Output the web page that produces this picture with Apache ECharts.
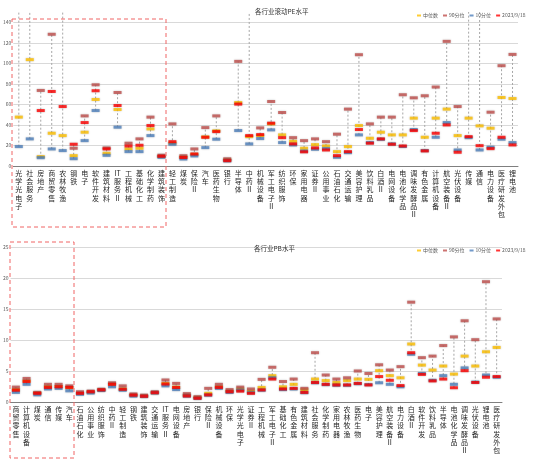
<!DOCTYPE html>
<html>
<head>
<meta charset="utf-8">
<script src="https://cdn.jsdelivr.net/npm/echarts@6/dist/echarts.min.js"></script>
<style>
  html, body { margin: 0; padding: 0; background: #fff; }
  #chart { width: 550px; height: 462px; }
</style>
</head>
<body>
<div id="chart"></div>
<script>
// 上图：PE
const peCats = ['光学光电子', '社会服务', '房地产', '商贸零售', '农林牧渔', '钢铁', '电子', '软件开发', '建筑材料', 'IT服务Ⅱ',
  '工程机械', '基础化工', '化学制药', '建筑装饰', '轻工制造', '煤炭', '保险Ⅱ', '汽车', '医药生物', '银行',
  '半导体', '中药Ⅱ', '机械设备', '军工电子Ⅱ', '纺织服饰', '环保', '家用电器', '证券Ⅱ', '公用事业', '石油石化',
  '交通运输', '美容护理', '饮料乳品', '白酒Ⅱ', '电网设备', '电池化学品', '调味发酵品Ⅱ', '有色金属', '计算机设备', '航空装备Ⅱ',
  '光伏设备', '传媒', '通信', '电力设备', '医疗研发外包', '锂电池'];
const peMedian = [47.6, 103.6, 9.1, 31.9, 29.6, 10.1, 32.9, 64.8, 12.4, 55, 16.6, 17.3, 36.1, 9.3, 22.3, 8.8, 11.4, 28.3, 34.2, 6,
  61.8, 28.6, 29.6, 41, 30.3, 24.1, 17.3, 20.8, 19.5, 14, 18.9, 39.4, 27, 32.9, 30.3, 30.3, 46.6, 28, 46.6, 55.4,
  29.6, 46.6, 39.1, 36.8, 66.7, 65.7];
const peP90 = [175, 190, 73.6, 128.3, 160, 17.3, 48.8, 79.1, 17.6, 71.6, 22.2, 26.4, 47.6, 10.5, 41, 10, 16.6, 37.4, 48.8, 7,
  101.9, 155, 37.1, 62.8, 52.1, 27.6, 24.7, 26.4, 23.7, 31, 55.4, 108.4, 41, 47.6, 47.6, 69.4, 66.4, 68.4, 76.9, 121.4,
  57.9, 170, 165, 52.4, 97.7, 108.7];
const peP10 = [18.9, 26.4, 8.1, 16.6, 15, 7.1, 24.7, 54, 10.4, 37.8, 14, 14, 29.6, 8.5, 21.2, 6.8, 9.8, 17.9, 26.1, 5,
  34.5, 21.5, 26.7, 35.2, 22.8, 20.5, 14.5, 16.3, 16.9, 8.5, 13, 30.3, 22.8, 26, 21.5, 19, 35.5, 15, 28, 42.3,
  15.6, 27.6, 15.6, 18.3, 26.1, 22.8];
const peNow = [160, 165, 54, 72.6, 57.9, 21.2, 42.3, 73.3, 16.6, 58.9, 19.5, 20.2, 39.4, 9.5, 23.7, 8.3, 11.7, 28, 33.5, 5.2,
  60.3, 29.6, 30.6, 41.7, 27.6, 21.5, 13.8, 17.6, 15.6, 10.1, 14, 35.5, 22.2, 26.4, 21.2, 19.5, 34.5, 14.7, 31.9, 40,
  13.4, 28.6, 19.8, 16.9, 28, 20.5];

// 下图：PB
const pbCats = ['商贸零售', '计算机设备', '煤炭', '通信', '传媒', '汽车', '石油石化', '公用事业', '纺织服饰', '中药Ⅱ',
  '轻工制造', '钢铁', '建筑装饰', '交通运输', 'IT服务Ⅱ', '电网设备', '房地产', '银行', '保险Ⅱ', '机械设备',
  '环保', '光学光电子', '证券Ⅱ', '工程机械', '军工电子Ⅱ', '基础化工', '有色金属', '建筑材料', '社会服务', '化学制药',
  '家用电器', '农林牧渔', '医药生物', '电子', '美容护理', '航空装备Ⅱ', '电力设备', '白酒Ⅱ', '软件开发', '饮料乳品',
  '半导体', '电池化学品', '调味发酵品Ⅱ', '光伏设备', '锂电池', '医疗研发外包'];
const pbMedian = [2.0, 3.4, 1.45, 2.5, 2.5, 2.3, 1.4, 1.6, 1.95, 2.9, 2.1, 1.1, 0.95, 1.5, 3.0, 2.4, 1.1, 0.75, 1.4, 2.45,
  1.75, 2.1, 1.75, 2.35, 4.25, 2.45, 2.85, 2.0, 3.7, 3.45, 3.15, 3.45, 3.7, 3.65, 5.05, 4.25, 3.9, 9.35, 5.95, 5.15,
  5.8, 4.5, 7.4, 5.8, 8.1, 8.8];
const pbP90 = [2.4, 3.8, 1.55, 2.85, 2.85, 2.6, 1.65, 1.75, 2.05, 3.1, 2.6, 1.3, 1.1, 1.65, 3.55, 3.0, 1.35, 0.85, 2.2, 2.85,
  2.0, 2.4, 2.1, 3.65, 5.6, 3.3, 3.7, 2.2, 7.95, 4.35, 3.7, 3.9, 5.0, 4.6, 6.0, 5.15, 5.7, 16.1, 7.15, 7.4,
  9.1, 10.5, 13.1, 10.05, 19.4, 13.4];
const pbP10 = [1.55, 2.85, 1.15, 2.1, 2.2, 1.8, 1.25, 1.45, 1.85, 2.45, 1.9, 0.95, 0.88, 1.45, 2.6, 2.0, 0.95, 0.58, 1.1, 2.2,
  1.55, 1.9, 1.5, 1.9, 3.9, 2.0, 2.1, 1.5, 3.1, 2.8, 2.7, 2.7, 2.95, 2.8, 3.1, 2.85, 2.45, 7.7, 4.6, 3.5,
  4.25, 2.85, 5.5, 3.2, 4.35, 4.0];
const pbNow = [1.9, 3.3, 1.4, 2.35, 2.45, 2.35, 1.4, 1.65, 1.95, 2.85, 2.05, 1.1, 0.92, 1.5, 2.9, 2.35, 0.97, 0.6, 1.15, 2.35,
  1.65, 1.75, 1.4, 1.95, 3.7, 2.1, 2.2, 1.55, 3.15, 2.85, 2.75, 2.75, 3.0, 2.75, 4.1, 3.5, 2.65, 7.95, 4.45, 3.4,
  3.7, 2.3, 5.05, 3.15, 4.0, 4.1];

const names = ['中位数', '90分位', '10分位', '2023/9/18'];
const colors = ['#FFC000', '#C0504D', '#4F81BD', '#FF0000'];

const chart = echarts.init(document.getElementById('chart'));

// 每个行业从最低到最高画一条虚线
function rangeSeries(idx, arrs) {
  return {
    type: 'custom', xAxisIndex: idx, yAxisIndex: idx, clip: true, silent: true, z: 1,
    data: arrs[0].map((_, i) => [i, Math.min(...arrs.map(a => a[i])), Math.max(...arrs.map(a => a[i]))]),
    encode: {x: 0, y: [1, 2]},
    renderItem: function (params, api) {
      const lo = api.coord([api.value(0), api.value(1)]);
      const hi = api.coord([api.value(0), api.value(2)]);
      return {
        type: 'line',
        shape: {x1: lo[0], y1: lo[1], x2: hi[0], y2: hi[1]},
        style: {stroke: '#a6a6a6', lineWidth: 1, lineDash: [2, 2]}
      };
    }
  };
}

function markSeries(idx, name, data, color) {
  return {
    name: name, type: 'scatter', xAxisIndex: idx, yAxisIndex: idx, data: data,
    symbol: 'rect', symbolSize: [8, 3], z: 3,
    itemStyle: {color: color, shadowBlur: 2, shadowColor: 'rgba(0,0,0,0.3)'}
  };
}

const peSets = [peMedian, peP90, peP10, peNow];
const pbSets = [pbMedian, pbP90, pbP10, pbNow];

const labelFmt = v => v.match(/IT|./g).join('\n');

function xAxis(idx, cats) {
  return {
    type: 'category', gridIndex: idx, data: cats,
    axisLine: {lineStyle: {color: '#7f7f7f'}},
    axisTick: {length: 3, lineStyle: {color: '#7f7f7f'}},
    axisLabel: {interval: 0, fontSize: 7, lineHeight: 8.3, color: '#262626', margin: 3, formatter: labelFmt}
  };
}

function yAxis(idx, max, interval) {
  return {
    type: 'value', gridIndex: idx, min: 0, max: max, interval: interval,
    axisLine: {show: false}, axisTick: {show: false},
    axisLabel: {fontSize: 5, color: '#595959', margin: 2, showMaxLabel: idx === 1},
    splitLine: {showMaxLine: idx === 1, lineStyle: {color: '#d9d9d9'}}
  };
}

function legend(top) {
  return {
    data: names, left: 412, top: top, itemWidth: 4, itemHeight: 2, itemGap: 5, icon: 'rect',
    textStyle: {fontSize: 5, color: '#595959', padding: [0, 0, 0, -3]}
  };
}

chart.setOption({
  animation: false,
  textStyle: {fontFamily: 'Noto Sans CJK SC'},
  title: [
    {text: '各行业滚动PE水平', left: 250, top: 3, textStyle: {fontSize: 6.5, color: '#333', fontWeight: 'normal'}},
    {text: '各行业PB水平', left: 249, top: 240, textStyle: {fontSize: 6.5, color: '#333', fontWeight: 'normal'}}
  ],
  legend: [legend(8), legend(243)],
  grid: [
    {left: 11, top: 12, width: 507, height: 154},
    {left: 10, top: 247, width: 492, height: 155}
  ],
  xAxis: [xAxis(0, peCats), xAxis(1, pbCats)],
  yAxis: [yAxis(0, 150, 20), yAxis(1, 25, 5)],
  series: [
    rangeSeries(0, peSets),
    rangeSeries(1, pbSets),
    ...names.map((n, i) => markSeries(0, n, peSets[i], colors[i])),
    ...names.map((n, i) => markSeries(1, n, pbSets[i], colors[i]))
  ],
  graphic: [
    {type: 'rect', z: 10, silent: true, shape: {x: 12, y: 19, width: 154, height: 208},
      style: {fill: 'none', stroke: '#f06464', lineWidth: 1, lineDash: [4, 3]}},
    {type: 'rect', z: 10, silent: true, shape: {x: 10, y: 242, width: 64, height: 216},
      style: {fill: 'none', stroke: '#f06464', lineWidth: 1, lineDash: [4, 3]}}
  ]
});
</script>
</body>
</html>
